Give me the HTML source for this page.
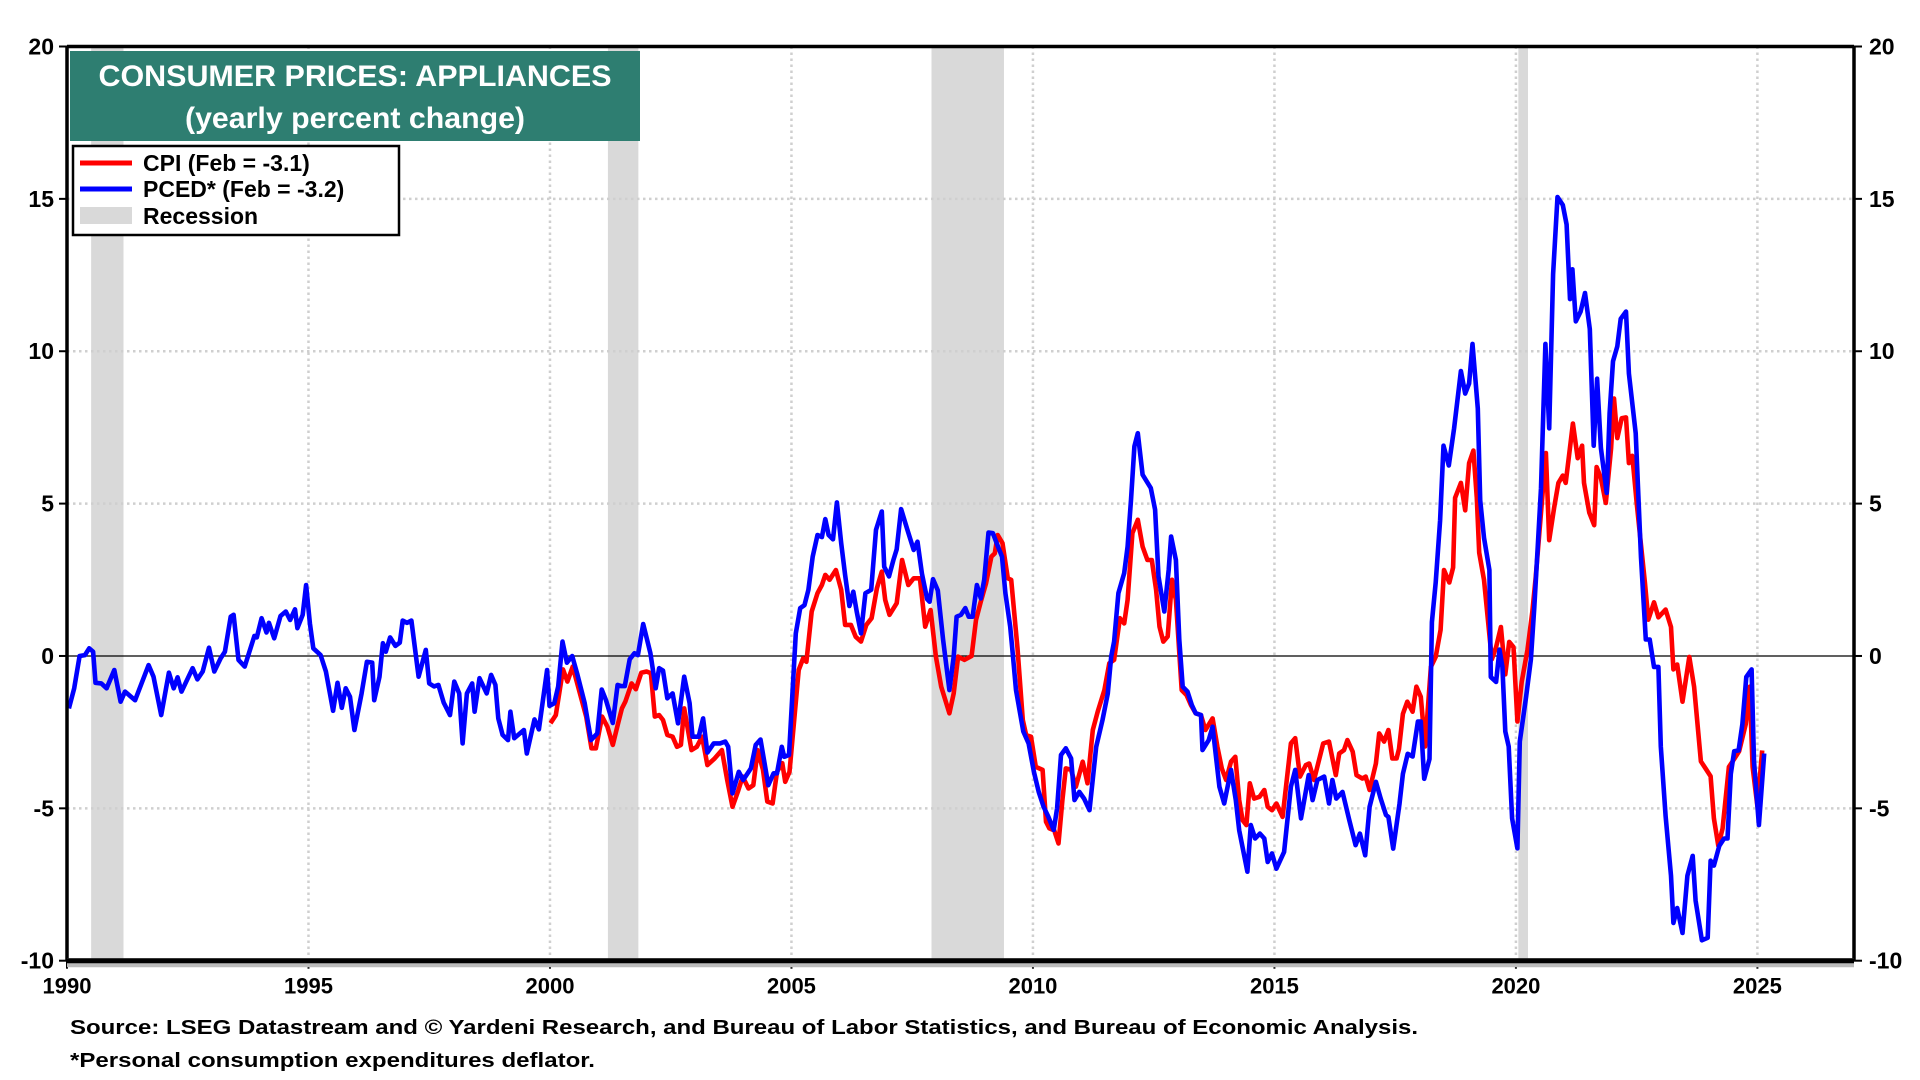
<!DOCTYPE html>
<html><head><meta charset="utf-8"><style>
html,body{margin:0;padding:0;background:#fff;}
svg{display:block;font-family:"Liberation Sans",Arial,sans-serif;}
</style></head><body>
<svg id="chart" width="1920" height="1080" viewBox="0 0 1920 1080" xmlns="http://www.w3.org/2000/svg">
<g id="recessions"></g>
<g id="grid"></g>
<g id="series"></g>
<g id="axes"></g>
<g>
<rect x="70" y="51" width="570" height="90" fill="#2e7e71"/>
<text x="355" y="86" text-anchor="middle" fill="#fff" font-weight="bold" font-size="30" textLength="513" lengthAdjust="spacingAndGlyphs">CONSUMER PRICES: APPLIANCES</text>
<text x="355" y="128" text-anchor="middle" fill="#fff" font-weight="bold" font-size="30" textLength="340" lengthAdjust="spacingAndGlyphs">(yearly percent change)</text>
</g>
<g>
<rect x="73" y="146" width="326" height="89" fill="#fff" stroke="#000" stroke-width="2.5"/>
<g><line x1="80" y1="163" x2="132" y2="163" stroke="#f00" stroke-width="5"/><text x="143" y="171" font-weight="bold" font-size="23">CPI (Feb = -3.1)</text></g>
<g><line x1="80" y1="189" x2="132" y2="189" stroke="#00f" stroke-width="5"/><text x="143" y="197" font-weight="bold" font-size="23">PCED* (Feb = -3.2)</text></g>
<g><rect x="80" y="207" width="52" height="17" fill="#d9d9d9"/><text x="143" y="224" font-weight="bold" font-size="23">Recession</text></g>
</g>
<text x="70" y="1034" font-weight="bold" font-size="20" textLength="1348" lengthAdjust="spacingAndGlyphs">Source: LSEG Datastream and © Yardeni Research, and Bureau of Labor Statistics, and Bureau of Economic Analysis.</text>
<text x="70" y="1067" font-weight="bold" font-size="20" textLength="525" lengthAdjust="spacingAndGlyphs">*Personal consumption expenditures deflator.</text>
</svg>
<script>
const yTicks=[20,15,10,5,0,-5,-10];
const xTicks=[1990,1995,2000,2005,2010,2015,2020,2025];
const recStart=[1990.5,2001.2,2007.9,2020.05];
const recEnd=[1991.17,2001.83,2009.4,2020.25];
const pcedYears=[1990.04,1990.15,1990.26,1990.37,1990.46,1990.54,1990.59,1990.71,1990.82,1990.98,1991.11,1991.2,1991.41,1991.69,1991.79,1991.95,1992.11,1992.21,1992.29,1992.37,1992.6,1992.7,1992.81,1992.94,1993.05,1993.18,1993.27,1993.39,1993.45,1993.55,1993.68,1993.88,1993.93,1994.03,1994.13,1994.18,1994.29,1994.42,1994.53,1994.62,1994.72,1994.77,1994.88,1994.95,1995.03,1995.1,1995.25,1995.36,1995.51,1995.6,1995.69,1995.77,1995.86,1995.95,1996.1,1996.21,1996.32,1996.36,1996.47,1996.54,1996.6,1996.69,1996.8,1996.89,1996.95,1997.04,1997.13,1997.28,1997.43,1997.5,1997.6,1997.69,1997.8,1997.93,1998.02,1998.12,1998.19,1998.28,1998.39,1998.44,1998.54,1998.69,1998.78,1998.87,1998.93,1999.02,1999.13,1999.18,1999.26,1999.46,1999.52,1999.68,1999.77,1999.94,1999.99,2000.09,2000.17,2000.26,2000.35,2000.46,2000.57,2000.72,2000.85,2000.98,2001.07,2001.16,2001.3,2001.4,2001.47,2001.55,2001.65,2001.75,2001.82,2001.93,2002.08,2002.19,2002.26,2002.34,2002.43,2002.54,2002.65,2002.78,2002.89,2002.95,2003.08,2003.17,2003.26,2003.39,2003.52,2003.63,2003.69,2003.78,2003.91,2004.0,2004.16,2004.26,2004.36,2004.52,2004.63,2004.7,2004.8,2004.85,2004.95,2005.09,2005.18,2005.27,2005.35,2005.44,2005.54,2005.63,2005.7,2005.77,2005.86,2005.94,2006.03,2006.11,2006.2,2006.28,2006.35,2006.44,2006.53,2006.65,2006.75,2006.87,2006.92,2007.02,2007.11,2007.18,2007.27,2007.4,2007.53,2007.61,2007.7,2007.81,2007.86,2007.93,2008.03,2008.14,2008.27,2008.36,2008.42,2008.51,2008.6,2008.67,2008.75,2008.84,2008.92,2008.99,2009.08,2009.17,2009.28,2009.36,2009.43,2009.53,2009.58,2009.65,2009.8,2009.91,2010.02,2010.12,2010.22,2010.32,2010.43,2010.5,2010.58,2010.68,2010.79,2010.86,2010.96,2011.06,2011.17,2011.31,2011.44,2011.55,2011.62,2011.68,2011.77,2011.89,2011.96,2012.03,2012.1,2012.17,2012.27,2012.44,2012.53,2012.6,2012.72,2012.81,2012.86,2012.96,2013.03,2013.1,2013.2,2013.29,2013.37,2013.48,2013.51,2013.64,2013.72,2013.86,2013.96,2014.1,2014.2,2014.27,2014.44,2014.51,2014.6,2014.7,2014.79,2014.86,2014.95,2015.04,2015.2,2015.34,2015.43,2015.55,2015.71,2015.79,2015.89,2016.03,2016.13,2016.2,2016.28,2016.41,2016.55,2016.68,2016.77,2016.88,2016.97,2017.1,2017.2,2017.31,2017.36,2017.46,2017.59,2017.66,2017.76,2017.86,2017.97,2018.03,2018.1,2018.21,2018.26,2018.34,2018.43,2018.5,2018.61,2018.72,2018.86,2018.95,2019.03,2019.1,2019.21,2019.26,2019.34,2019.45,2019.48,2019.59,2019.66,2019.72,2019.78,2019.85,2019.92,2020.03,2020.08,2020.21,2020.31,2020.38,2020.45,2020.52,2020.61,2020.69,2020.77,2020.86,2020.97,2021.05,2021.12,2021.17,2021.24,2021.34,2021.43,2021.53,2021.61,2021.68,2021.76,2021.88,2021.94,2022.01,2022.1,2022.17,2022.28,2022.34,2022.48,2022.59,2022.69,2022.77,2022.86,2022.95,2023.0,2023.1,2023.21,2023.26,2023.34,2023.45,2023.55,2023.66,2023.72,2023.85,2023.97,2024.03,2024.1,2024.21,2024.31,2024.38,2024.45,2024.52,2024.61,2024.69,2024.77,2024.88,2024.93,2025.03,2025.14];
const pcedValues=[-1.72,-1.06,0,0.03,0.25,0.14,-0.88,-0.9,-1.06,-0.46,-1.5,-1.17,-1.45,-0.3,-0.68,-1.94,-0.55,-1.06,-0.7,-1.17,-0.4,-0.77,-0.51,0.27,-0.51,-0.08,0.14,1.29,1.35,-0.13,-0.35,0.66,0.61,1.24,0.77,1.09,0.58,1.31,1.46,1.18,1.53,0.91,1.35,2.33,1.07,0.25,0.03,-0.51,-1.8,-0.88,-1.7,-1.06,-1.34,-2.43,-1.23,-0.19,-0.22,-1.45,-0.68,0.42,0.14,0.61,0.33,0.44,1.16,1.09,1.16,-0.68,0.2,-0.9,-1.0,-0.95,-1.53,-1.94,-0.84,-1.23,-2.87,-1.23,-0.9,-1.83,-0.73,-1.23,-0.62,-0.95,-2.05,-2.59,-2.76,-1.83,-2.7,-2.43,-3.2,-2.08,-2.41,-0.46,-1.64,-1.55,-1.0,0.47,-0.22,0,-0.62,-1.55,-2.76,-2.54,-1.1,-1.45,-2.2,-0.95,-0.99,-0.99,-0.11,0.09,0.03,1.05,0.09,-1.06,-0.4,-0.48,-1.39,-1.23,-2.21,-0.68,-1.55,-2.65,-2.65,-2.05,-3.17,-2.87,-2.87,-2.81,-2.98,-4.51,-3.8,-4.07,-3.69,-2.92,-2.74,-4.24,-3.85,-3.85,-2.98,-3.31,-3.25,0.74,1.57,1.67,2.17,3.26,3.97,3.9,4.49,3.97,3.83,5.04,3.7,2.66,1.64,2.11,1.46,0.74,2.06,2.17,4.14,4.74,2.93,2.61,3.15,3.5,4.82,4.14,3.48,3.75,2.71,1.86,1.78,2.52,2.15,0.53,-1.12,-0.02,1.29,1.35,1.57,1.29,1.29,2.33,1.89,2.5,4.05,4.03,3.57,3.26,2.06,0.96,0.09,-1.12,-2.48,-2.87,-3.8,-4.46,-4.95,-5.28,-5.71,-5.0,-3.25,-3.03,-3.36,-4.73,-4.46,-4.68,-5.06,-2.98,-2.1,-1.23,-0.02,0.47,2.06,2.72,3.59,5.12,6.88,7.31,5.95,5.51,4.8,2.61,1.46,2.83,3.92,3.15,0.53,-1.01,-1.17,-1.61,-1.88,-1.94,-3.09,-2.76,-2.32,-4.29,-4.84,-3.74,-4.73,-5.72,-7.08,-5.55,-5.99,-5.83,-5.99,-6.76,-6.48,-6.98,-6.43,-4.29,-3.74,-5.33,-3.91,-4.73,-4.07,-3.96,-4.84,-4.07,-4.68,-4.46,-5.39,-6.21,-5.83,-6.54,-4.95,-4.13,-4.68,-5.22,-5.28,-6.32,-4.85,-3.87,-3.21,-3.3,-2.15,-2.15,-4.03,-3.38,1.11,2.41,4.45,6.9,6.25,7.47,9.35,8.61,8.94,10.24,8.12,5.11,3.88,2.82,-0.69,-0.85,0.21,-0.36,-2.48,-2.97,-5.33,-6.31,-2.81,-1.34,-0.11,1.6,3.56,5.51,10.24,7.47,12.53,15.06,14.8,14.16,11.71,12.69,10.98,11.3,11.91,10.73,6.9,9.1,6.82,5.35,7.96,9.67,10.16,11.06,11.3,9.27,7.31,3.23,0.54,0.54,-0.36,-0.36,-2.97,-5.25,-7.21,-8.76,-8.27,-9.09,-7.21,-6.56,-8.03,-9.33,-9.25,-6.72,-6.88,-6.23,-5.99,-5.99,-3.87,-3.13,-3.1,-2.23,-0.69,-0.44,-3.46,-5.55,-3.2];
const cpiYears=[2000.01,2000.12,2000.27,2000.36,2000.47,2000.75,2000.86,2000.95,2001.08,2001.19,2001.3,2001.41,2001.49,2001.56,2001.69,2001.78,2001.89,2002.0,2002.09,2002.17,2002.26,2002.34,2002.43,2002.54,2002.63,2002.71,2002.78,2002.93,2003.04,2003.15,2003.26,2003.41,2003.56,2003.67,2003.78,2003.89,2003.99,2004.11,2004.21,2004.3,2004.41,2004.5,2004.61,2004.7,2004.81,2004.87,2004.96,2005.07,2005.15,2005.24,2005.31,2005.42,2005.54,2005.63,2005.7,2005.79,2005.92,2006.03,2006.11,2006.23,2006.33,2006.44,2006.55,2006.66,2006.77,2006.87,2006.94,2007.03,2007.18,2007.29,2007.42,2007.53,2007.66,2007.77,2007.88,2007.99,2008.1,2008.27,2008.36,2008.45,2008.58,2008.73,2008.82,2008.92,2009.03,2009.14,2009.21,2009.27,2009.37,2009.48,2009.55,2009.68,2009.79,2009.86,2009.96,2010.06,2010.2,2010.27,2010.34,2010.44,2010.53,2010.61,2010.68,2010.79,2010.89,2011.03,2011.13,2011.24,2011.34,2011.48,2011.58,2011.68,2011.8,2011.89,2011.96,2012.06,2012.17,2012.27,2012.37,2012.46,2012.55,2012.62,2012.7,2012.79,2012.88,2012.96,2013.08,2013.18,2013.27,2013.37,2013.48,2013.57,2013.72,2013.82,2013.91,2014.0,2014.1,2014.19,2014.27,2014.34,2014.42,2014.49,2014.58,2014.69,2014.79,2014.86,2014.95,2015.04,2015.17,2015.34,2015.43,2015.53,2015.65,2015.72,2015.82,2016.01,2016.13,2016.27,2016.34,2016.44,2016.51,2016.62,2016.7,2016.82,2016.89,2016.97,2017.1,2017.17,2017.27,2017.36,2017.44,2017.53,2017.58,2017.66,2017.75,2017.86,2017.94,2018.03,2018.12,2018.24,2018.34,2018.44,2018.51,2018.62,2018.7,2018.74,2018.86,2018.95,2019.03,2019.12,2019.19,2019.24,2019.34,2019.5,2019.59,2019.69,2019.78,2019.86,2019.95,2020.03,2020.12,2020.24,2020.34,2020.41,2020.52,2020.62,2020.69,2020.79,2020.88,2020.97,2021.03,2021.1,2021.18,2021.28,2021.37,2021.41,2021.52,2021.62,2021.67,2021.76,2021.86,2021.97,2022.03,2022.1,2022.19,2022.28,2022.34,2022.41,2022.5,2022.59,2022.67,2022.74,2022.86,2022.95,2023.1,2023.21,2023.26,2023.34,2023.45,2023.59,2023.69,2023.83,2023.93,2024.03,2024.1,2024.19,2024.28,2024.41,2024.52,2024.62,2024.76,2024.84,2024.9,2025.0,2025.1];
const cpiValues=[-2.21,-1.94,-0.44,-0.84,-0.35,-1.99,-3.03,-3.03,-1.99,-2.32,-2.92,-2.21,-1.72,-1.5,-0.9,-1.09,-0.55,-0.51,-0.57,-1.99,-1.94,-2.1,-2.59,-2.65,-2.98,-2.92,-1.72,-3.09,-2.98,-2.65,-3.58,-3.36,-3.09,-4.07,-4.95,-4.46,-3.96,-4.35,-4.24,-3.09,-3.74,-4.78,-4.84,-3.8,-3.52,-4.13,-3.8,-1.88,-0.46,-0.08,-0.19,1.46,2.06,2.33,2.66,2.5,2.82,2.17,1.02,1.02,0.63,0.47,1.02,1.24,2.22,2.77,1.84,1.35,1.73,3.15,2.33,2.55,2.55,0.96,1.51,-0.02,-1.01,-1.88,-1.23,-0.02,-0.13,0,1.18,1.78,2.39,3.26,3.37,3.97,3.7,2.55,2.5,0.25,-2.1,-2.6,-2.65,-3.64,-3.74,-5.44,-5.66,-5.72,-6.15,-4.73,-3.69,-3.74,-4.29,-3.47,-4.18,-2.43,-1.83,-1.12,-0.24,-0.13,1.24,1.07,1.84,4.03,4.47,3.59,3.15,3.15,2.17,0.96,0.47,0.64,2.5,1.84,-1.12,-1.28,-1.61,-1.88,-1.94,-2.43,-2.05,-2.98,-3.69,-4.07,-3.47,-3.31,-4.73,-5.39,-5.55,-4.18,-4.68,-4.62,-4.4,-4.95,-5.06,-4.84,-5.28,-2.87,-2.7,-3.96,-3.58,-3.53,-4.07,-2.87,-2.81,-3.91,-3.2,-3.09,-2.76,-3.14,-3.91,-4.02,-3.96,-4.4,-3.53,-2.54,-2.81,-2.43,-3.36,-3.36,-3.05,-1.9,-1.5,-1.83,-1.01,-1.34,-2.97,-0.36,-0.03,0.86,2.82,2.41,2.9,5.19,5.68,4.78,6.33,6.74,5.19,3.39,2.5,-0.11,0.29,0.95,-0.6,0.46,0.29,-2.15,-0.85,0.21,1.44,2.58,4.7,6.66,3.8,4.86,5.68,5.92,5.68,6.57,7.63,6.49,6.9,5.68,4.7,4.29,6.2,5.84,5.02,6.82,8.45,7.15,7.8,7.83,6.33,6.57,5.02,3.64,2.41,1.19,1.76,1.27,1.52,0.95,-0.44,-0.28,-1.5,-0.03,-1.01,-3.46,-3.7,-3.95,-5.33,-6.23,-5.66,-3.64,-3.38,-3.13,-2.23,-1.01,-3.64,-4.93,-3.1];

const NS='http://www.w3.org/2000/svg';
const L=67,R=1854,T=46.5,B=960.7;
const X0=1990,X1=2027,Y0=-10,Y1=20;
function xs(v){return L+(v-X0)*(R-L)/(X1-X0);}
function ys(v){return B-(v-Y0)*(B-T)/(Y1-Y0);}
function mk(tag,attrs,parent){const e=document.createElementNS(NS,tag);for(const k in attrs)e.setAttribute(k,attrs[k]);parent.appendChild(e);return e;}

const rg=document.getElementById('recessions');
for(let i=0;i<recStart.length;i++){
  const r=mk('rect',{x:xs(recStart[i]),y:T,width:xs(recEnd[i])-xs(recStart[i]),height:B-T,fill:'#d9d9d9'},rg);
  
  
}
const gg=document.getElementById('grid');
const ag=document.getElementById('axes');
yTicks.forEach(v=>{
  if(v!==0&&v!==Y1&&v!==Y0){
    const g=mk('line',{x1:L,x2:R,y1:ys(v),y2:ys(v),stroke:'#cfcfcf','stroke-width':2.5,'stroke-dasharray':'2.5 3.5'},gg);
    
    
  }
  mk('line',{x1:L-8,x2:L,y1:ys(v),y2:ys(v),stroke:'#000','stroke-width':2},ag);
  mk('line',{x1:R,x2:R+8,y1:ys(v),y2:ys(v),stroke:'#000','stroke-width':2},ag);
  const t1=mk('text',{x:L-13,y:ys(v)+8,'text-anchor':'end','font-size':23,'font-weight':'bold'},ag);
  t1.textContent=v;
  
  
  const t2=mk('text',{x:R+15,y:ys(v)+8,'text-anchor':'start','font-size':23,'font-weight':'bold'},ag);
  t2.textContent=v;
  
  
});
xTicks.forEach(v=>{
  if(v!==X0){
    const g=mk('line',{x1:xs(v),x2:xs(v),y1:T,y2:B,stroke:'#cfcfcf','stroke-width':2.5,'stroke-dasharray':'2.5 3.5'},gg);
    
    
  }
  mk('line',{x1:xs(v),x2:xs(v),y1:B,y2:B+8,stroke:'#000','stroke-width':2},ag);
  const t=mk('text',{x:xs(v),y:B+33,'text-anchor':'middle','font-size':22,'font-weight':'bold'},ag);
  t.textContent=v;
  
  
});
const zl=mk('line',{x1:L,x2:R,y1:ys(0),y2:ys(0),stroke:'#000','stroke-width':1.3},gg);


mk('line',{x1:L,x2:R,y1:T,y2:T,stroke:'#000','stroke-width':3.5},ag);
mk('line',{x1:R,x2:R,y1:T,y2:B,stroke:'#000','stroke-width':3.5},ag);
mk('line',{x1:L,x2:L,y1:T,y2:B,stroke:'#000','stroke-width':3.5},ag);
mk('line',{x1:L,x2:R,y1:B+2,y2:B+2,stroke:'#bbb','stroke-width':9},ag);
mk('line',{x1:L,x2:R,y1:B,y2:B,stroke:'#000','stroke-width':5},ag);

const sg=document.getElementById('series');
function draw(xsArr,vals,color,name){
  const d=xsArr.map((x,i)=>(i?'L':'M')+xs(x).toFixed(1)+' '+ys(vals[i]).toFixed(1)).join(' ');
  const p=mk('path',{d:d,fill:'none',stroke:color,'stroke-width':4.6,'stroke-linejoin':'round'},sg);
  
  
}
draw(cpiYears,cpiValues,'#ff0000','cpi-line');
draw(pcedYears,pcedValues,'#0000ff','pced-line');
</script>
</body></html>
